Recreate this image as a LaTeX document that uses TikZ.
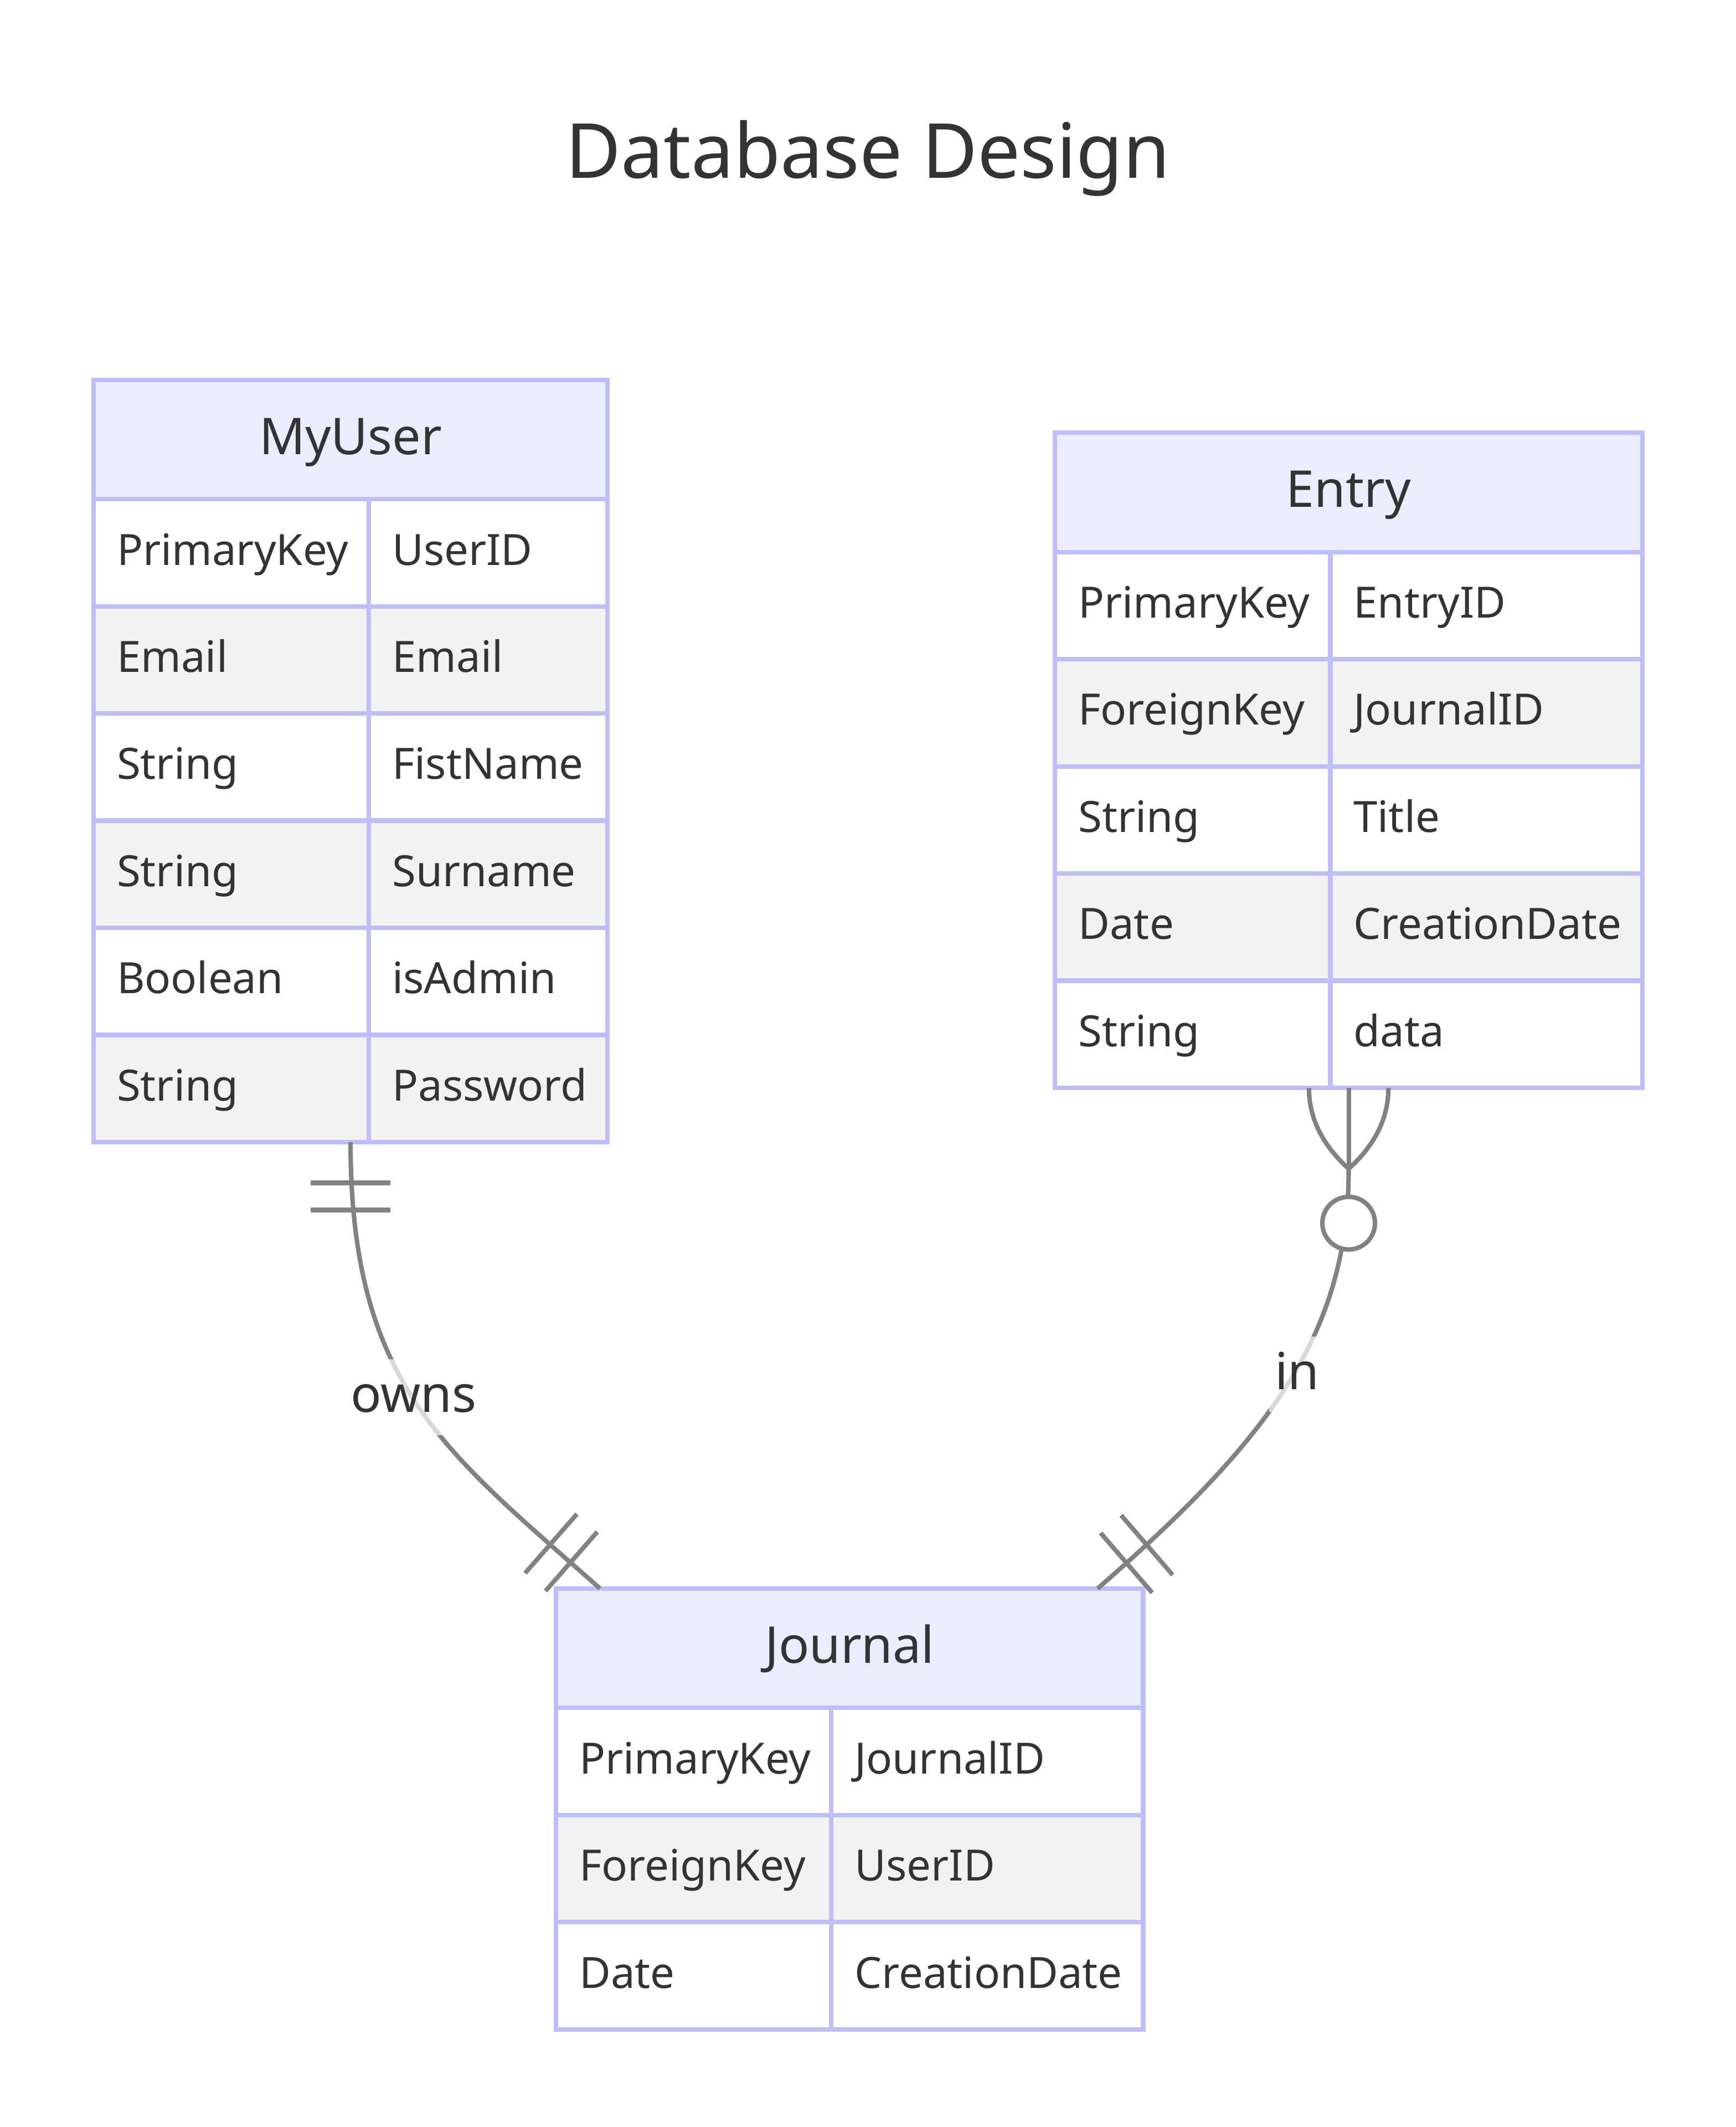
\documentclass[tikz,border=0pt]{standalone}
\usepackage{fontspec}
\setmainfont{Noto Sans}
\usetikzlibrary{calc}
\definecolor{erborder}{RGB}{190,190,248}
\definecolor{erhead}{HTML}{ECECFF}
\definecolor{erevenfill}{HTML}{F2F2F2}
\definecolor{erline}{RGB}{130,130,130}
\definecolor{ertext}{HTML}{333333}

% #1 prefix, #2 left, #3 divider, #4 right, #5 top, #6 row style, #7 type, #8 attribute, #9 index
\newcommand\erattr[9]{%
  \node[ercell,#6,minimum width={(#3-#2)*0.5pt}] (#1k#9) at (#2,#5) {};
  \node[ercell,#6,minimum width={(#4-#3)*0.5pt}] (#1v#9) at (#3,#5) {};
  \node[erattrtext] (#1kt#9) at ($(#1k#9.north west)+(16.8,48.5)$) {#7};
  \node[erattrtext] (#1vt#9) at ($(#1v#9.north west)+(16.8,48.5)$) {#8};
}

\begin{document}
\begin{tikzpicture}[x=0.5pt,y=-0.5pt,
  ercell/.style={draw=erborder, line width=1.7pt, anchor=north west, inner sep=0pt, outer sep=0pt, minimum height=39.5pt},
  oddrow/.style={fill=white},
  evenrow/.style={fill=erevenfill},
  erheadcell/.style={ercell, fill=erhead, minimum height=44pt},
  erouter/.style={draw=none, anchor=north west, inner sep=0pt, outer sep=0pt},
  erattrtext/.style={anchor=base west, inner sep=0pt, text=ertext, font=\fontsize{15.9}{19}\selectfont},
  erheadtext/.style={anchor=base, inner sep=0pt, text=ertext, font=\fontsize{18.7}{22}\selectfont},
  ertitle/.style={anchor=base, inner sep=0pt, text=ertext, font=\fontsize{28}{34}\selectfont},
  erconn/.style={draw=erline, line width=1.65pt},
  ercircle/.style={circle, draw=erline, line width=1.65pt, fill=white, minimum size=19.4pt, inner sep=0pt},
  erlabel/.style={anchor=base, fill=white, fill opacity=0.7, text opacity=1, text=ertext,
    font=\fontsize{18.8}{22}\selectfont, text height=19.5pt, text depth=8.3pt, inner ysep=0pt, inner xsep=2pt}
]
\useasboundingbox (0,0) rectangle (1280,1568);
\fill[white] (0,0) rectangle (1280,1568);

\node[ertitle] (title) at (640,131.3) {Database Design};

% ---------- MyUser ----------
\node[erouter, minimum width={379*0.5pt}, minimum height={562*0.5pt}] (MyUser) at (69,280) {};
\node[erheadcell, minimum width={379*0.5pt}] (MyUserH) at (69,280) {};
\node[erheadtext] (MyUserT) at ($(MyUserH.north)+(0,55)$) {MyUser};
\erattr{u}{69}{272}{448}{368}{oddrow}{PrimaryKey}{UserID}{1}
\erattr{u}{69}{272}{448}{447}{evenrow}{Email}{Email}{2}
\erattr{u}{69}{272}{448}{526}{oddrow}{String}{FistName}{3}
\erattr{u}{69}{272}{448}{605}{evenrow}{String}{Surname}{4}
\erattr{u}{69}{272}{448}{684}{oddrow}{Boolean}{isAdmin}{5}
\erattr{u}{69}{272}{448}{763}{evenrow}{String}{Password}{6}

% ---------- Entry ----------
\node[erouter, minimum width={433*0.5pt}, minimum height={483*0.5pt}] (Entry) at (778,319) {};
\node[erheadcell, minimum width={433*0.5pt}] (EntryH) at (778,319) {};
\node[erheadtext] (EntryT) at ($(EntryH.north)+(0,55)$) {Entry};
\erattr{e}{778}{981}{1211}{407}{oddrow}{PrimaryKey}{EntryID}{1}
\erattr{e}{778}{981}{1211}{486}{evenrow}{ForeignKey}{JournalID}{2}
\erattr{e}{778}{981}{1211}{565}{oddrow}{String}{Title}{3}
\erattr{e}{778}{981}{1211}{644}{evenrow}{Date}{CreationDate}{4}
\erattr{e}{778}{981}{1211}{723}{oddrow}{String}{data}{5}

% ---------- Journal ----------
\node[erouter, minimum width={433*0.5pt}, minimum height={325*0.5pt}] (Journal) at (410,1171) {};
\node[erheadcell, minimum width={433*0.5pt}] (JournalH) at (410,1171) {};
\node[erheadtext] (JournalT) at ($(JournalH.north)+(0,55)$) {Journal};
\erattr{j}{410}{613}{843}{1259}{oddrow}{PrimaryKey}{JournalID}{1}
\erattr{j}{410}{613}{843}{1338}{evenrow}{ForeignKey}{UserID}{2}
\erattr{j}{410}{613}{843}{1417}{oddrow}{Date}{CreationDate}{3}

% ---------- MyUser -- owns -- Journal ----------
\coordinate (ownsEnd) at ($(Journal.north west)+(32.4,0)$);
\draw[erconn] (MyUser.south) .. controls (258.5,1022) and (329.5,1070.8) .. (ownsEnd);
\draw[erconn] ($(MyUser.south)+(-29.4,30)$) -- ++(58.8,0);
\draw[erconn] ($(MyUser.south)+(-29.4,50)$) -- ++(58.8,0);
\draw[erconn] (402.2,1172.9) -- (440.4,1129.3);
\draw[erconn] (387.2,1159.7) -- (425.4,1116.1);

% ---------- Entry -- in -- Journal ----------
\coordinate (crowTip) at ($(Entry.south)+(0,59.6)$);
\coordinate (inEnd) at ($(Journal.north east)+(-33.6,0)$);
\draw[erconn] (crowTip) .. controls (994.5,981.6) and (938.1,1059.2) .. (inEnd);
\draw[erconn] (Entry.south) -- (crowTip);
\draw[erconn] ($(Entry.south)+(-29.3,0)$) .. controls ($(Entry.south)+(-29.3,22)$) and ($(crowTip)+(-19.6,-17.7)$) .. (crowTip);
\draw[erconn] ($(Entry.south)+(29.3,0)$) .. controls ($(Entry.south)+(29.3,22)$) and ($(crowTip)+(19.6,-17.7)$) .. (crowTip);
\node[ercircle] (zeroMark) at ($(Entry.south)+(0,99.7)$) {};
\draw[erconn] (811.6,1130.1) -- (849.6,1174.1);
\draw[erconn] (826.7,1117) -- (864.7,1161);

% ---------- labels ----------
\node[erlabel] (ownsLabel) at (305,1041.2) {owns};
\node[erlabel] (inLabel) at (956.5,1024.4) {in};
\end{tikzpicture}
\end{document}
